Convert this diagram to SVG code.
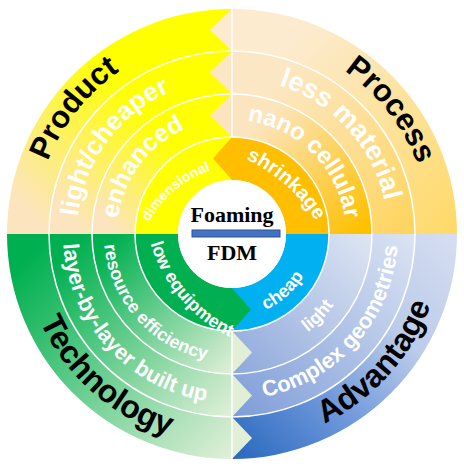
<svg xmlns="http://www.w3.org/2000/svg" width="464" height="467" viewBox="0 0 464 467">
<defs>
<style>
.t{font-family:"Liberation Sans",Arial,sans-serif;font-weight:bold;}
.k{fill:#000;}
.w{fill:#fff;}
.sep{fill:none;stroke:#fff;stroke-width:1.5;}
.ctr{font-family:"Liberation Serif","Times New Roman",serif;font-weight:bold;fill:#000;font-size:22px;text-anchor:middle;}
</style>
<linearGradient id="gP" x1="1" y1="0" x2="0" y2="1"><stop offset="0.4" stop-color="#FFFF00"/><stop offset="0.9" stop-color="#FCE4BE"/></linearGradient>
<linearGradient id="gR4" x1="0" y1="0" x2="1" y2="1"><stop offset="0.2" stop-color="#FCEBCF"/><stop offset="1" stop-color="#FFD966"/></linearGradient>
<linearGradient id="gR3" x1="0" y1="0" x2="1" y2="1"><stop offset="0.2" stop-color="#FCE7C4"/><stop offset="1" stop-color="#FFD45A"/></linearGradient>
<linearGradient id="gR2" x1="0" y1="0" x2="1" y2="1"><stop offset="0.2" stop-color="#FCE5BE"/><stop offset="0.95" stop-color="#FFC000"/></linearGradient>
<linearGradient id="gT" x1="0" y1="0" x2="1" y2="1"><stop offset="0.1" stop-color="#00B050"/><stop offset="1" stop-color="#E2F0D9"/></linearGradient>
<linearGradient id="gA4" x1="1" y1="0" x2="0" y2="1"><stop offset="0" stop-color="#D6DEF1"/><stop offset="0.35" stop-color="#BBCBEA"/><stop offset="0.65" stop-color="#7099DB"/><stop offset="1" stop-color="#2767BE"/></linearGradient>
<linearGradient id="gA3" x1="1" y1="0" x2="0" y2="1"><stop offset="0" stop-color="#DCE4F3"/><stop offset="1" stop-color="#7D9CD8"/></linearGradient>
<linearGradient id="gA2" x1="1" y1="0" x2="0" y2="1"><stop offset="0" stop-color="#DFE6F3"/><stop offset="1" stop-color="#8DA8DB"/></linearGradient>
<path id="tpProduct" d="M 47.8 306.6 A 198 198 0 0 1 261.3 38.2"/>
<path id="tpProcess" d="M 204.4 37.9 A 198 198 0 0 1 415.6 308.2"/>
<path id="tpLC" d="M 89.8 295.8 A 155 155 0 0 1 249.5 80.0"/>
<path id="tpLess" d="M 198.5 81.6 A 156 156 0 0 1 380.7 281.2"/>
<path id="tpEnh" d="M 126.4 279.5 A 115 115 0 0 1 245.4 119.8"/>
<path id="tpNano" d="M 202.5 123.9 A 114 114 0 0 1 342.1 263.5"/>
<path id="tpDim" d="M 137.3 293.9 A 110 110 0 0 1 283.2 171.4"/>
<path id="tpShr" d="M 154.6 146.0 A 161.4 161.4 0 0 1 339.8 309.8"/>
<path id="tpTech" d="M 25.2 191.9 A 211 211 0 0 0 299.0 434.1"/>
<path id="tpAdv" d="M 188.8 440.5 A 211 211 0 0 0 432.4 168.1"/>
<path id="tpLayer" d="M 71.0 182.6 A 169 169 0 0 0 268.0 399.1"/>
<path id="tpComplex" d="M 198.9 396.7 A 166 166 0 0 0 389.4 181.3"/>
<path id="tpRes" d="M 110.5 193.6 A 128 128 0 0 0 257.7 359.4"/>
<path id="tpLight" d="M 202.8 354.5 A 124 124 0 0 0 351.0 199.0"/>
<path id="tpCheap" d="M 206.0 312.8 A 83 83 0 0 0 313.3 217.1"/>
<path id="tpLow" d="M 146.3 173.5 A 153.3 153.3 0 0 0 298.1 352.8"/>
</defs>
<rect width="464" height="467" fill="#fff"/>

<g id="product">
<path d="M 135 234 A 97 97 0 0 1 232 137 L 232 180 A 54 54 0 0 0 178 234 Z" fill="#FFFF00"/>
<path d="M 92 234 A 140 140 0 0 1 232 94 L 232 137 A 97 97 0 0 0 135 234 Z" fill="url(#gP)"/>
<path d="M 49 234 A 183 183 0 0 1 232 51 L 232 94 A 140 140 0 0 0 92 234 Z" fill="url(#gP)"/>
<path d="M 7 234 A 225 225 0 0 1 232 9 L 232 51 A 183 183 0 0 0 49 234 Z" fill="url(#gP)"/>
</g>
<g id="process">
<path d="M 232 137 A 97 97 0 0 1 329 234 L 286 234 A 54 54 0 0 0 232 180 Z" fill="#FFBE00"/>
<path d="M 232 94 A 140 140 0 0 1 372 234 L 329 234 A 97 97 0 0 0 232 137 Z" fill="url(#gR2)"/>
<path d="M 232 51 A 183 183 0 0 1 415 234 L 372 234 A 140 140 0 0 0 232 94 Z" fill="url(#gR3)"/>
<path d="M 232 9 A 225 225 0 0 1 457 234 L 415 234 A 183 183 0 0 0 232 51 Z" fill="url(#gR4)"/>
<polygon points="232,137 213,158.5 232,180" fill="#FFBE00"/>
<polygon points="232,94 210,115.5 232,137" fill="#FCE5BE"/>
<polygon points="232,51 210,72.5 232,94" fill="#FCE7C4"/>
<polygon points="232,9 210,30 232,51" fill="#FCEBCF"/>
</g>
<g id="technology">
<path d="M 232 331 A 97 97 0 0 1 135 234 L 178 234 A 54 54 0 0 0 232 288 Z" fill="#00B050"/>
<path d="M 232 374 A 140 140 0 0 1 92 234 L 135 234 A 97 97 0 0 0 232 331 Z" fill="url(#gT)"/>
<path d="M 232 417 A 183 183 0 0 1 49 234 L 92 234 A 140 140 0 0 0 232 374 Z" fill="url(#gT)"/>
<path d="M 232 459 A 225 225 0 0 1 7 234 L 49 234 A 183 183 0 0 0 232 417 Z" fill="url(#gT)"/>
</g>
<g id="advantage">
<path d="M 329 234 A 97 97 0 0 1 232 331 L 232 288 A 54 54 0 0 0 286 234 Z" fill="#00B0F0"/>
<path d="M 372 234 A 140 140 0 0 1 232 374 L 232 331 A 97 97 0 0 0 329 234 Z" fill="url(#gA2)"/>
<path d="M 415 234 A 183 183 0 0 1 232 417 L 232 374 A 140 140 0 0 0 372 234 Z" fill="url(#gA3)"/>
<path d="M 457 234 A 225 225 0 0 1 232 459 L 232 417 A 183 183 0 0 0 415 234 Z" fill="url(#gA4)"/>
</g>
<g id="technology-tips">
<polygon points="232,288 251,309.5 232,331" fill="#00B050"/>
<polygon points="232,331 252,352.5 232,374" fill="#E0EFD6"/>
<polygon points="232,374 252,395.5 232,417" fill="#E0EFD6"/>
<polygon points="232,417 252,438 232,459" fill="#E0EFD6"/>
</g>
<g id="separators">
<circle class="sep" cx="232" cy="234" r="97"/>
<circle class="sep" cx="232" cy="234" r="140"/>
<circle class="sep" cx="232" cy="234" r="183"/>
<line class="sep" x1="232" y1="9" x2="232" y2="137" stroke-width="1"/>
<line class="sep" x1="232" y1="331" x2="232" y2="459" stroke-width="1"/>
</g>
<g id="center">
<circle cx="232" cy="234" r="54" fill="#fff"/>
<text class="ctr" x="232" y="222">Foaming</text>
<rect x="192" y="230" width="88" height="7" fill="#4472C4" stroke="#2F528F" stroke-width="1"/>
<text class="ctr" x="232" y="260">FDM</text>
</g>
<g id="labels" class="t">
<text class="k" font-size="31" text-anchor="middle"><textPath href="#tpProduct" startOffset="50%">Product</textPath></text>
<text class="k" font-size="31" text-anchor="middle"><textPath href="#tpProcess" startOffset="50%">Process</textPath></text>
<text class="k" font-size="32" text-anchor="middle"><textPath href="#tpTech" startOffset="50%">Technology</textPath></text>
<text class="k" font-size="32" text-anchor="middle"><textPath href="#tpAdv" startOffset="50%">Advantage</textPath></text>
<text class="w" font-size="26" text-anchor="middle"><textPath href="#tpLC" startOffset="50%">light/cheaper</textPath></text>
<text class="w" font-size="27" text-anchor="middle"><textPath href="#tpLess" startOffset="50%">less material</textPath></text>
<text class="w" font-size="22" text-anchor="middle"><textPath href="#tpLayer" startOffset="50%">layer-by-layer built up</textPath></text>
<text class="w" font-size="22" text-anchor="middle"><textPath href="#tpComplex" startOffset="50%">Complex geometries</textPath></text>
<text class="w" font-size="25" text-anchor="middle"><textPath href="#tpEnh" startOffset="50%">enhanced</textPath></text>
<text class="w" font-size="24" text-anchor="middle"><textPath href="#tpNano" startOffset="50%">nano cellular</textPath></text>
<text class="w" font-size="18" text-anchor="middle"><textPath href="#tpRes" startOffset="50%">resource efficiency</textPath></text>
<text class="w" font-size="18" text-anchor="middle"><textPath href="#tpLight" startOffset="50%">light</textPath></text>
<text class="w" font-size="14" text-anchor="middle"><textPath href="#tpDim" startOffset="50%">dimensional</textPath></text>
<text class="w" font-size="20" text-anchor="middle"><textPath href="#tpShr" startOffset="50%">shrinkage</textPath></text>
<text class="w" font-size="18" text-anchor="middle"><textPath href="#tpLow" startOffset="50%">low equipment</textPath></text>
<text class="w" font-size="18" text-anchor="middle"><textPath href="#tpCheap" startOffset="50%">cheap</textPath></text>
</g>
</svg>
